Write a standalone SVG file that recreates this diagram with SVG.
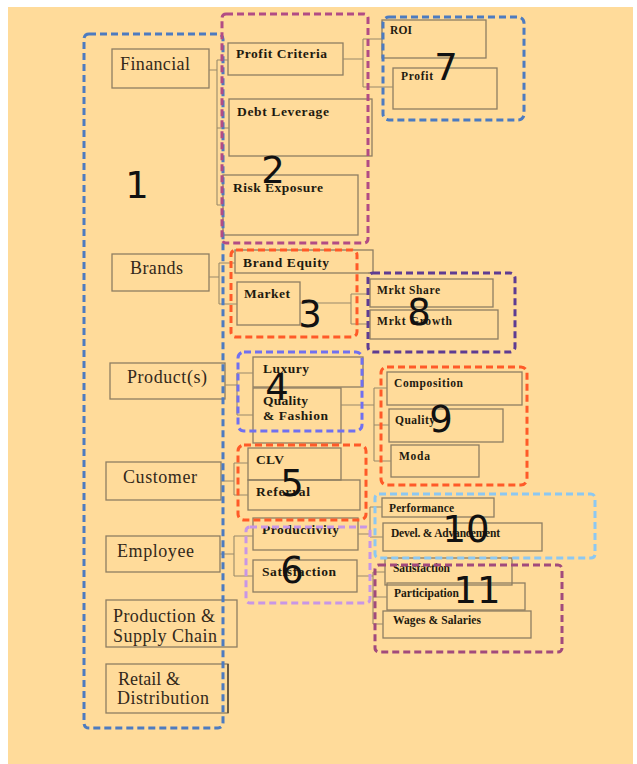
<svg xmlns="http://www.w3.org/2000/svg" width="637" height="764" viewBox="0 0 637 764">
<style>
.box{fill:none;stroke:#8E7E62;stroke-width:1.3}
.lbl{font-family:"Liberation Serif",serif;font-size:18px;fill:#33291a}
.in{font-family:"Liberation Serif",serif;font-size:13.5px;font-weight:bold;fill:#1e1a10}
.sm{font-family:"Liberation Serif",serif;font-size:11.5px;font-weight:bold;fill:#1e1a10}
.num{font-family:"DejaVu Sans",sans-serif;font-size:37px;fill:#111;text-anchor:middle}
.grp{fill:none;stroke-width:3;stroke-dasharray:7 4}
#connectors path{fill:none;stroke:#9A8A6A;stroke-width:1.1}
</style>
<rect width="637" height="764" fill="#ffffff"/>
<rect x="8" y="7" width="625" height="757" fill="#FFDB9A"/>

<!-- left nodes -->
<g id="financial"><rect class="box" x="112" y="49" width="97" height="39"/><text class="lbl" x="120" y="70" textLength="70">Financial</text></g>
<g id="brands"><rect class="box" x="112" y="254" width="97" height="37"/><text class="lbl" x="130" y="274" textLength="53">Brands</text></g>
<g id="products"><rect class="box" x="110" y="363" width="115" height="36"/><text class="lbl" x="127" y="383" textLength="80">Product(s)</text></g>
<g id="customer"><rect class="box" x="106" y="462" width="115" height="38"/><text class="lbl" x="123" y="483" textLength="74">Customer</text></g>
<g id="employee"><rect class="box" x="106" y="536" width="114" height="36"/><text class="lbl" x="117" y="557" textLength="77">Employee</text></g>
<g id="production"><rect class="box" x="106" y="600" width="131" height="47"/><text class="lbl" x="113" y="622" textLength="102">Production &amp;</text><text class="lbl" x="113" y="642" textLength="104">Supply Chain</text></g>
<g id="retail"><rect class="box" x="106" y="664" width="122" height="49"/><line x1="228" y1="664" x2="228" y2="713" stroke="#5a4c36" stroke-width="1.6"/><text class="lbl" x="118" y="685" textLength="62">Retail &amp;</text><text class="lbl" x="117" y="704" textLength="92">Distribution</text></g>

<!-- financial children -->
<g id="profit-criteria"><rect class="box" x="228" y="43" width="115" height="32"/><text class="in" x="236" y="58" textLength="91">Profit Criteria</text></g>
<g id="debt-leverage"><rect class="box" x="229" y="99" width="143" height="57"/><text class="in" x="237" y="116" textLength="92">Debt Leverage</text></g>
<g id="risk-exposure"><rect class="box" x="223" y="175" width="135" height="60"/><text class="in" x="233" y="192" textLength="90">Risk Exposure</text></g>
<g id="roi"><rect class="box" x="382" y="20" width="104" height="38"/><text class="sm" x="390" y="34" textLength="22">ROI</text></g>
<g id="profit"><rect class="box" x="393" y="68" width="104" height="41"/><text class="sm" x="401" y="80" textLength="32">Profit</text></g>

<!-- brands children -->
<g id="brand-equity"><rect class="box" x="235" y="250" width="138" height="23"/><text class="in" x="243" y="267" textLength="86">Brand Equity</text></g>
<g id="market"><rect class="box" x="237" y="282" width="63" height="43"/><text class="in" x="244" y="298" textLength="46">Market</text></g>
<g id="mrkt-share"><rect class="box" x="370" y="279" width="123" height="28"/><text class="sm" x="377" y="294" textLength="63">Mrkt Share</text></g>
<g id="mrkt-growth"><rect class="box" x="370" y="310" width="128" height="29"/><text class="sm" x="377" y="325" textLength="75">Mrkt Growth</text></g>

<!-- product children -->
<g id="luxury"><rect class="box" x="253" y="357" width="110" height="30"/><text class="in" x="263" y="373" textLength="46">Luxury</text></g>
<g id="quality-fashion"><rect class="box" x="253" y="388" width="88" height="55"/><text class="in" x="263" y="405" textLength="45">Quality</text><text class="in" x="263" y="420" textLength="65">&amp; Fashion</text></g>
<g id="composition"><rect class="box" x="387" y="372" width="135" height="33"/><text class="sm" x="394" y="387" textLength="69">Composition</text></g>
<g id="quality"><rect class="box" x="389" y="409" width="114" height="33"/><text class="sm" x="395" y="424" textLength="40">Quality</text></g>
<g id="moda"><rect class="box" x="391" y="445" width="88" height="32"/><text class="sm" x="399" y="460" textLength="31">Moda</text></g>

<!-- customer children -->
<g id="clv"><rect class="box" x="248" y="448" width="93" height="32"/><text class="in" x="256" y="464" textLength="28">CLV</text></g>
<g id="referral"><rect class="box" x="248" y="480" width="112" height="30"/><text class="in" x="256" y="496" textLength="54">Referral</text></g>

<!-- employee children -->
<g id="productivity"><rect class="box" x="253" y="518" width="105" height="32"/><text class="in" x="262" y="534" textLength="77">Productivity</text></g>
<g id="satisfaction"><rect class="box" x="253" y="560" width="104" height="32"/><text class="in" x="262" y="576" textLength="74">Satisfaction</text></g>
<g id="performance"><rect class="box" x="382" y="498" width="112" height="19"/><text class="sm" x="389" y="512" textLength="65">Performance</text></g>
<g id="devel"><rect class="box" x="383" y="523" width="159" height="28"/><text class="sm" x="391" y="537" textLength="109">Devel. &amp; Advancement</text></g>
<g id="satisfaction-2"><rect class="box" x="385" y="558" width="127" height="27"/><text class="sm" x="393" y="572" textLength="57">Satisfaction</text></g>
<g id="participation"><rect class="box" x="387" y="583" width="138" height="27"/><text class="sm" x="394" y="597" textLength="65">Participation</text></g>
<g id="wages"><rect class="box" x="383" y="611" width="148" height="27"/><text class="sm" x="393" y="624" textLength="88">Wages &amp; Salaries</text></g>

<g id="connectors">
<path d="M209 70H217M217 60V205M217 60H228M217 128H229M217 205H223"/>
<path d="M343 59H363M363 39V87M363 39H382M363 87H393"/>
<path d="M209 277H219M219 263V304M219 263H235M219 304H237"/>
<path d="M300 303H351M351 294V324M351 294H370M351 324H370M373 273H368"/>
<path d="M225 385H237M237 373V415M237 373H253M237 415H253"/>
<path d="M341 405H374M374 388V461M374 388H387M374 425H389M374 461H391"/>
<path d="M221 481H234M234 463V495M234 463H248M234 495H248"/>
<path d="M220 554H234M234 536V576M234 536H253M234 576H253"/>
<path d="M358 534H370M370 507V537M370 507H382M370 537H383"/>
<path d="M357 576H373M373 572V624M373 572H385M373 597H387M373 624H383"/>
</g>

<!-- clusters -->
<g id="cluster-1"><rect class="grp" x="84" y="34" width="139" height="694" rx="5" stroke="#4C7BC0" stroke-dasharray="4 3"/></g>
<g id="cluster-2"><rect class="grp" x="222" y="14" width="146" height="229" rx="4" stroke="#B24C84" stroke-dasharray="5 3"/></g>
<g id="cluster-3"><rect class="grp" x="231" y="250" width="126" height="87" rx="5" stroke="#FF5A28"/></g>
<g id="cluster-4"><rect class="grp" x="238" y="352" width="124" height="79" rx="6" stroke="#7070F0" stroke-width="2.5"/></g>
<g id="cluster-5"><rect class="grp" x="238" y="445" width="128" height="75" rx="6" stroke="#FF5A28"/></g>
<g id="cluster-6"><rect class="grp" x="246" y="527" width="124" height="76" rx="4" stroke="#C896E6" stroke-width="2.2"/></g>
<g id="cluster-7"><rect class="grp" x="383" y="17" width="141" height="103" rx="6" stroke="#4C7BC0" stroke-dasharray="5 3"/></g>
<g id="cluster-8"><rect class="grp" x="368" y="273" width="147" height="79" rx="5" stroke="#5E3C92" stroke-dasharray="5 3"/></g>
<g id="cluster-9"><rect class="grp" x="381" y="367" width="146" height="118" rx="6" stroke="#FF5A28"/></g>
<g id="cluster-10"><rect class="grp" x="375" y="494" width="220" height="64" rx="4" stroke="#8CC8F2" stroke-width="2.5"/></g>
<g id="cluster-11"><rect class="grp" x="375" y="565" width="187" height="87" rx="4" stroke="#A24A7C" stroke-dasharray="6 4"/></g>

<g id="numbers">
<text class="num" x="137" y="198">1</text>
<text class="num" x="273" y="183">2</text>
<text class="num" x="310" y="327">3</text>
<text class="num" x="277" y="400">4</text>
<text class="num" x="292" y="496">5</text>
<text class="num" x="292" y="583">6</text>
<text class="num" x="446" y="80">7</text>
<text class="num" x="419" y="325">8</text>
<text class="num" x="441" y="432">9</text>
<text class="num" x="466" y="542">10</text>
<text class="num" x="477" y="603">11</text>
</g>
</svg>
